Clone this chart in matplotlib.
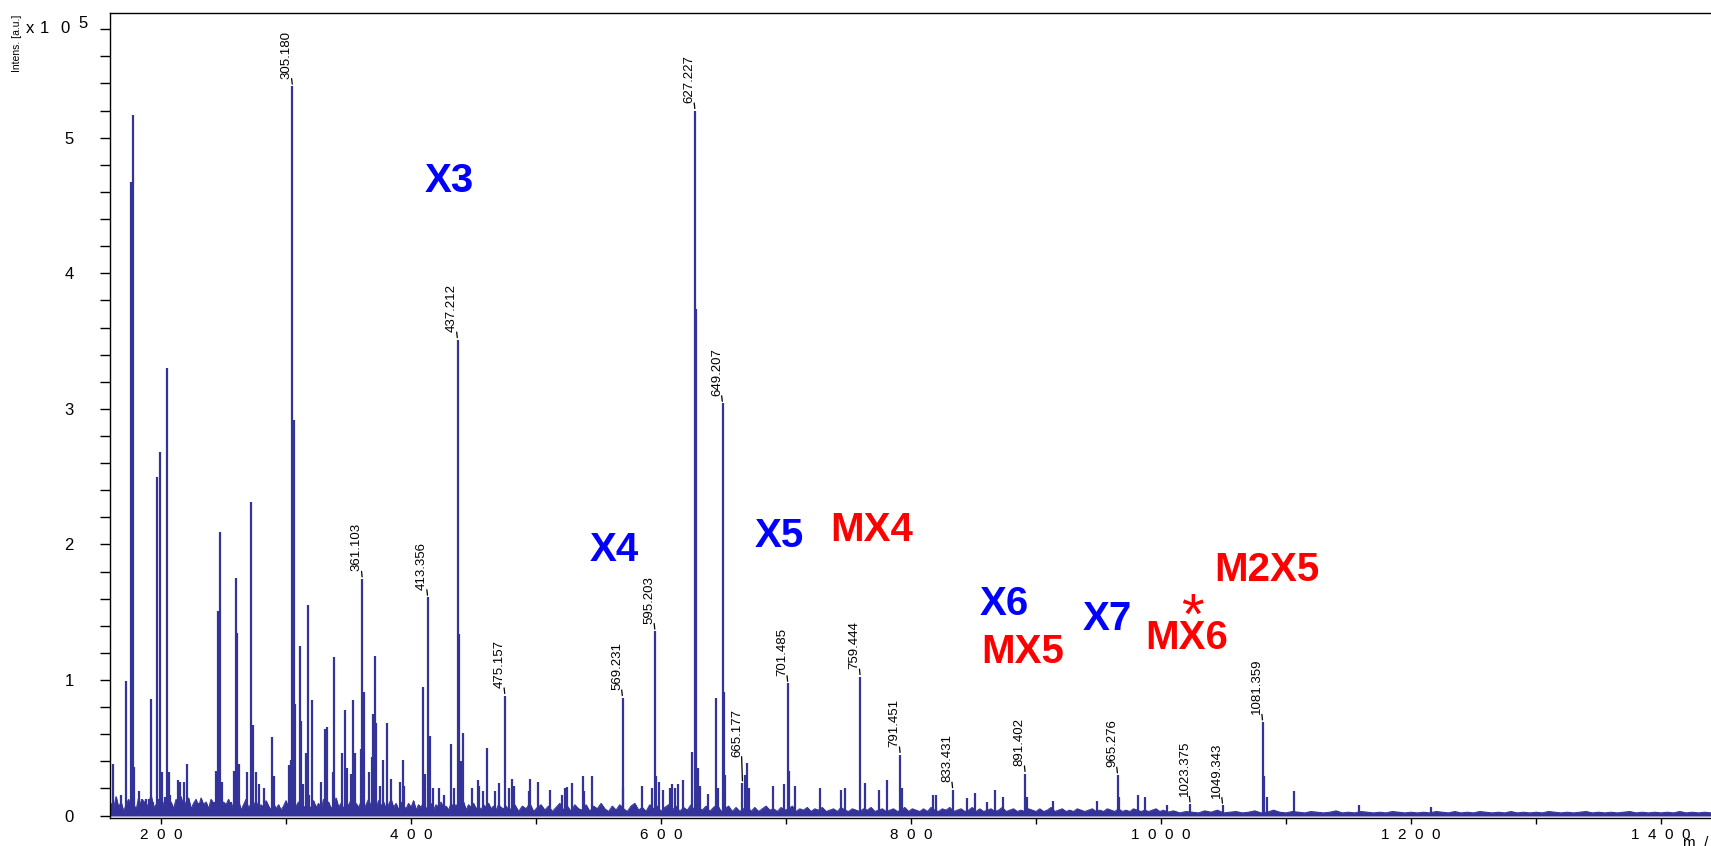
import numpy as np
import matplotlib
matplotlib.use("Agg")
import matplotlib.pyplot as plt

plt.rcParams['font.family'] = ['Liberation Sans', 'DejaVu Sans']

# ---------------- data (m/z, intensity x 1e5) ----------------
peak_mz = [161.9, 165.0, 168.0, 172.0, 175.6, 177.2, 178.4, 182.2, 184.6, 188.0,
           190.0, 192.0, 193.5, 197.0, 198.9, 200.5, 203.0, 204.5, 206.2, 207.5,
           213.6, 215.2, 218.4, 221.0, 228.3, 230.4, 232.3, 236.3, 242.1, 244.3,
           245.9, 247.4, 248.8, 256.0, 258.4, 259.6, 261.0, 262.3, 266.0, 268.5,
           272.2, 273.3, 276.2, 278.4, 282.4, 288.8, 290.0, 302.7, 303.8, 305.18,
           306.0, 307.0, 311.2, 312.3, 313.2, 316.0, 317.6, 318.6, 321.0, 327.7,
           331.0, 332.8, 337.3, 338.4, 344.8, 347.5, 348.5, 352.3, 353.4, 355.0,
           359.7, 361.1, 362.4, 366.6, 368.8, 369.9, 371.0, 372.0, 375.2, 377.6,
           381.0, 384.0, 391.2, 393.6, 394.6, 409.9, 411.0, 413.36, 415.0, 417.5,
           422.4, 426.0, 432.3, 434.6, 437.21, 438.4, 439.8, 441.3, 448.5, 453.6,
           454.6, 457.8, 461.0, 467.5, 470.0, 475.16, 478.1, 480.8, 482.4, 494.1,
           495.2, 501.6, 511.2, 520.8, 523.5, 524.5, 528.8, 537.4, 538.4, 544.8,
           569.23, 569.9, 584.8, 592.8, 595.2, 596.0, 598.2, 601.4, 607.2, 608.5,
           611.0, 613.9, 617.6, 624.8, 627.23, 628.3, 629.6, 631.0, 637.8, 644.0,
           645.6, 649.21, 650.2, 651.0, 665.18, 667.4, 668.8, 670.6, 689.9, 698.4,
           701.49, 702.4, 707.2, 727.2, 744.3, 747.2, 759.44, 763.4, 774.6, 781.0,
           791.45, 793.0, 817.3, 819.7, 833.43, 844.8, 851.5, 861.0, 867.4, 873.6,
           891.40, 893.0, 913.4, 949.0, 965.28, 966.5, 981.4, 987.5, 1004.8, 1023.38,
           1049.34, 1081.36, 1082.6, 1084.5, 1106.7, 1158.4, 1216.0]
peak_int = [0.38, 0.07, 0.15, 0.99, 4.67, 5.17, 0.36, 0.18, 0.12, 0.12,
            0.12, 0.86, 0.10, 2.50, 2.68, 0.32, 0.14, 3.30, 0.32, 0.15,
            0.26, 0.25, 0.25, 0.38, 0.07, 0.09, 0.10, 0.07, 0.10, 0.33,
            1.51, 2.09, 0.25, 0.10, 0.33, 1.75, 1.35, 0.38, 0.07, 0.32,
            2.31, 0.67, 0.32, 0.23, 0.20, 0.58, 0.29, 0.37, 0.41, 5.38,
            2.92, 0.82, 1.25, 0.70, 0.23, 0.46, 1.55, 0.15, 0.85, 0.25,
            0.64, 0.65, 0.32, 1.17, 0.46, 0.78, 0.35, 0.31, 0.85, 0.46,
            0.49, 1.745, 0.91, 0.32, 0.43, 0.75, 1.18, 0.68, 0.22, 0.41,
            0.68, 0.27, 0.25, 0.41, 0.22, 0.95, 0.31, 1.61, 0.59, 0.20,
            0.20, 0.15, 0.53, 0.20, 3.51, 1.34, 0.40, 0.61, 0.20, 0.26,
            0.22, 0.18, 0.50, 0.18, 0.24, 0.885, 0.20, 0.27, 0.22, 0.18,
            0.27, 0.25, 0.19, 0.15, 0.20, 0.21, 0.24, 0.29, 0.18, 0.29,
            0.87, 0.21, 0.22, 0.20, 1.36, 0.29, 0.25, 0.19, 0.20, 0.23,
            0.20, 0.23, 0.26, 0.47, 5.20, 3.74, 0.35, 0.22, 0.16, 0.87,
            0.20, 3.04, 0.91, 0.30, 0.24, 0.30, 0.39, 0.20, 0.22, 0.23,
            0.975, 0.33, 0.22, 0.20, 0.19, 0.20, 1.024, 0.24, 0.19, 0.26,
            0.45, 0.20, 0.15, 0.15, 0.19, 0.13, 0.17, 0.10, 0.19, 0.14,
            0.31, 0.14, 0.11, 0.11, 0.30, 0.14, 0.15, 0.14, 0.08, 0.085,
            0.076, 0.69, 0.29, 0.14, 0.18, 0.08, 0.065]

# baseline noise (three m/z segments, read as a rough noise envelope)
noise_a_start, noise_a_step = 158, 2
noise_a = [0.04, 0.09, 0.05, 0.14, 0.06, 0.10, 0.03, 0.08, 0.12, 0.05,
           0.09, 0.04, 0.13, 0.07, 0.11, 0.05, 0.09, 0.15, 0.06, 0.08,
           0.12, 0.04, 0.09, 0.13, 0.07, 0.10, 0.05, 0.12, 0.08, 0.14,
           0.06, 0.10, 0.13, 0.05, 0.09, 0.12, 0.06, 0.13, 0.08, 0.10,
           0.05, 0.12, 0.09, 0.06, 0.13, 0.05, 0.10, 0.08, 0.12, 0.05,
           0.09, 0.06, 0.11, 0.04, 0.08, 0.12, 0.05, 0.09, 0.07, 0.11,
           0.04, 0.08, 0.06, 0.11, 0.07, 0.04, 0.09, 0.05, 0.08, 0.04,
           0.07, 0.11, 0.05, 0.08, 0.04, 0.07, 0.10, 0.04, 0.07, 0.05,
           0.08, 0.05, 0.11, 0.06, 0.09, 0.04, 0.12, 0.07, 0.10, 0.05,
           0.08, 0.13, 0.06, 0.09, 0.05, 0.11, 0.07, 0.12, 0.05, 0.09,
           0.06, 0.10, 0.04, 0.08, 0.12, 0.06, 0.09, 0.05, 0.11, 0.07,
           0.10, 0.05, 0.08, 0.12, 0.06, 0.09, 0.04, 0.10, 0.07, 0.05,
           0.09, 0.06, 0.11, 0.04, 0.08, 0.06, 0.10, 0.05, 0.07, 0.09,
           0.04, 0.08, 0.06, 0.10, 0.05, 0.07, 0.04, 0.09, 0.06, 0.08,
           0.05, 0.07, 0.10, 0.04, 0.08, 0.06, 0.09, 0.05, 0.07, 0.04,
           0.08, 0.06, 0.09, 0.05, 0.07, 0.04, 0.08, 0.06, 0.05, 0.07,
           0.04]
noise_b_start, noise_b_step = 480, 3
noise_b = [0.05, 0.08, 0.03, 0.07, 0.05, 0.09, 0.03, 0.06, 0.08, 0.04,
           0.07, 0.03, 0.06, 0.09, 0.04, 0.07, 0.03, 0.08, 0.05, 0.04,
           0.08, 0.03, 0.07, 0.05, 0.09, 0.05, 0.03, 0.07, 0.04, 0.08,
           0.05, 0.03, 0.07, 0.09, 0.04, 0.06, 0.03, 0.08, 0.05, 0.07,
           0.03, 0.06, 0.08, 0.04, 0.07, 0.03, 0.06, 0.04, 0.08, 0.03,
           0.06, 0.04, 0.07, 0.03, 0.06, 0.08, 0.03, 0.05, 0.07, 0.03,
           0.06, 0.03, 0.05, 0.07, 0.03, 0.06, 0.03, 0.05, 0.07, 0.04,
           0.05, 0.03, 0.06, 0.04, 0.05, 0.07, 0.03, 0.05, 0.04, 0.06,
           0.03, 0.05, 0.04, 0.06, 0.03, 0.04, 0.05, 0.03, 0.06, 0.04,
           0.03, 0.05, 0.04, 0.03, 0.05, 0.04, 0.06, 0.03, 0.04, 0.05,
           0.03, 0.04, 0.05, 0.03, 0.04, 0.06, 0.03, 0.05, 0.04, 0.03,
           0.05, 0.03, 0.06, 0.04, 0.03, 0.05, 0.04, 0.06, 0.03, 0.04,
           0.05, 0.03, 0.04, 0.06, 0.03, 0.05, 0.03, 0.04, 0.05, 0.03,
           0.04, 0.06, 0.03, 0.04, 0.05, 0.03, 0.04, 0.03, 0.05, 0.04,
           0.03, 0.05, 0.03, 0.04, 0.06, 0.03, 0.04, 0.05, 0.03, 0.04,
           0.03, 0.05, 0.04, 0.03, 0.04, 0.05, 0.03, 0.04, 0.03, 0.05,
           0.04, 0.03, 0.05, 0.03, 0.04, 0.03, 0.05, 0.04, 0.03, 0.04,
           0.03, 0.04, 0.05, 0.03, 0.04]
noise_c_start, noise_c_step = 1005, 5
noise_c = [0.025, 0.035, 0.02, 0.03, 0.025, 0.02, 0.035, 0.025, 0.04, 0.02,
           0.025, 0.03, 0.02, 0.025, 0.035, 0.02, 0.025, 0.04, 0.025, 0.02,
           0.03, 0.025, 0.02, 0.03, 0.025, 0.02, 0.025, 0.035, 0.02, 0.025,
           0.02, 0.03, 0.025, 0.02, 0.025, 0.02, 0.03, 0.025, 0.02, 0.025,
           0.02, 0.025, 0.02, 0.03, 0.025, 0.02, 0.03, 0.02, 0.025, 0.02,
           0.03, 0.025, 0.02, 0.025, 0.02, 0.03, 0.02, 0.025, 0.02, 0.025,
           0.02, 0.03, 0.025, 0.02, 0.025, 0.02, 0.025, 0.03, 0.02, 0.025,
           0.02, 0.025, 0.02, 0.025, 0.03, 0.02, 0.025, 0.02, 0.025, 0.02,
           0.025, 0.02, 0.03, 0.02, 0.025, 0.02, 0.025, 0.02]

label_mz = [305.18, 361.1, 413.36, 437.21, 475.16, 569.23, 595.2, 627.23, 649.21,
            665.18, 701.49, 759.44, 791.45, 833.43, 891.40, 965.28, 1023.38, 1049.34, 1081.36]
label_int = [5.38, 1.745, 1.61, 3.51, 0.885, 0.87, 1.36, 5.20, 3.04,
             0.24, 0.975, 1.024, 0.45, 0.19, 0.31, 0.30, 0.085, 0.076, 0.69]
label_txt = ["305.180", "361.103", "413.356", "437.212", "475.157", "569.231", "595.203",
             "627.227", "649.207", "665.177", "701.485", "759.444", "791.451", "833.431",
             "891.402", "965.276", "1023.375", "1049.343", "1081.359"]

ann_txt = ["X3", "X4", "X5", "MX4", "X6", "MX5", "X7", "MX6", "M2X5"]
ann_mz = [430.9, 562.6, 694.4, 768.8, 874.4, 889.2, 957.3, 1020.8, 1084.8]
ann_int = [4.68, 1.96, 2.06, 2.11, 1.56, 1.21, 1.45, 1.31, 1.81]
ann_col = ["blue", "blue", "blue", "red", "blue", "red", "blue", "red", "red"]
star_mz, star_int = 1025.4, 1.45

x_ticks = [200, 400, 600, 800, 1000, 1200, 1400]
x_ticklabels = ["2  0  0", "4  0  0", "6  0  0", "8  0  0", "1  0  0  0", "1  2  0  0", "1  4  0  0"]
y_ticks = [0, 1, 2, 3, 4, 5]

# ---------------- figure ----------------
W, H = 1711, 846
fig = plt.figure(figsize=(W / 100, H / 100), dpi=100)
ax = fig.add_axes([110 / W, (H - 818) / H, (W - 110) / W, (818 - 13) / H])

col = '#333399'
na = np.array(noise_a); nb = np.array(noise_b); nc = np.array(noise_c)
mz_a = noise_a_start + noise_a_step * np.arange(len(na))
mz_b = noise_b_start + noise_b_step * np.arange(len(nb))
mz_c = noise_c_start + noise_c_step * np.arange(len(nc))
base_mz = np.concatenate([mz_a, mz_b, mz_c])
base_int = np.concatenate([na, nb, nc])
ax.fill_between(base_mz, 0, base_int, color=col, lw=0.6)
ax.plot(base_mz, base_int, color=col, lw=0.7)
ax.vlines(peak_mz, 0, peak_int, color=col, lw=1.6)

for mz, it, t in zip(label_mz, label_int, label_txt):
    off, lead = 5.5, 4.0
    if t == "665.177":
        off, lead = 19, 17.5
    ax.annotate(t, xy=(mz, it), xytext=(-4.0, off), textcoords='offset points',
                rotation=90, ha='center', va='bottom', fontsize=9.5, color='black')
    ax.annotate('', xy=(mz, it), xytext=(-0.6, lead + 1.5), textcoords='offset points',
                arrowprops=dict(arrowstyle='-', color='black', lw=0.9,
                                shrinkA=0, shrinkB=1.5, connectionstyle='arc3,rad=0'))

for t, mz, it, c in zip(ann_txt, ann_mz, ann_int, ann_col):
    ax.text(mz, it, t, color=c, fontsize=29, fontweight='bold', ha='center', va='center')
ax.text(star_mz, star_int, '*', color='red', fontsize=42, ha='center', va='center')

ax.set_xlim(159.2, 1440)
ax.set_ylim(-0.018, 5.92)
ax.set_xticks(x_ticks)
ax.set_xticklabels(x_ticklabels)
ax.set_xticks(np.arange(300, 1441, 200), minor=True)
ax.set_yticks(y_ticks)
ax.set_yticklabels([str(v) for v in y_ticks])
ax.set_yticks(np.arange(0.2, 5.9, 0.2), minor=True)
ax.tick_params(axis='x', which='both', direction='out', length=4.5, width=1.0, labelsize=11, pad=3)
ax.tick_params(axis='y', which='both', direction='out', length=7, width=1.0, labelsize=12, pad=19)
for s in ['left', 'top', 'bottom']:
    ax.spines[s].set_linewidth(1.0)
ax.spines['right'].set_visible(False)

fig.text(17 / W, 1 - 15 / H, 'Intens. [a.u.]', rotation=90, ha='center', va='top', fontsize=7.5)
for ch, xp in zip(['x', '1', '0'], [26, 40, 60]):
    fig.text(xp / W, 1 - 33 / H, ch, ha='left', va='baseline', fontsize=12)
fig.text(78 / W, 1 - 28 / H, '5', ha='left', va='baseline', fontsize=12)
fig.text(1683 / W, 1 - 836 / H, 'm  /  z', ha='left', va='top', fontsize=11)

fig.savefig('out.png', dpi=100)
